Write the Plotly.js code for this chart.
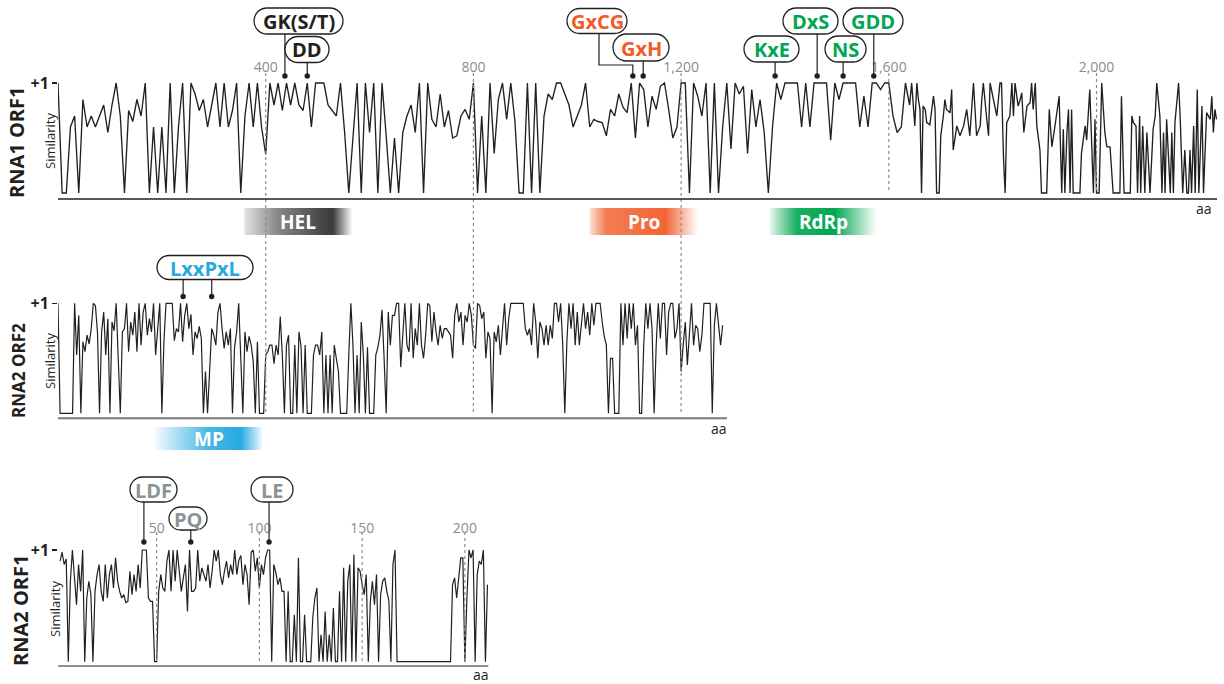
<!DOCTYPE html>
<html><head><meta charset="utf-8">
<script src="https://cdn.plot.ly/plotly-3.0.1.min.js"></script>
<style>html,body{margin:0;padding:0;background:#fff}#chart{width:1224px;height:684px}</style>
</head><body><div id="chart"></div>
<script>
// ================= DATA =================
// RNA1 ORF1 similarity profile, aa 0-1640 (one value every 8 aa)
const rna1Orf1Step = 8;
const rna1Orf1 = [
1.0,0,0,0.6,0.7,0,0.85,0.6,0.7,0.6,
0.7,0.8,0.55,0.8,1.0,0.7,0,0.75,0.65,0.85,
0.7,1.0,0,0.6,0,0.6,0,1.0,0,0.6,
1.0,0,1.0,0.9,0.75,0.85,0.6,0.8,1.0,0.6,
1.0,0.6,0.75,1.0,0,0.7,1.0,0.6,1.0,0.6,
0.35,1.0,0.8,1.0,0.75,1.0,0.8,1.0,0.8,0.75,
1.0,0.6,1.0,1.0,1.0,0.8,
0.75,0.7,1.0,0.55,0,0.5,1.0,0,1.0,0.55,
1.0,0,1.0,0.52,0,0.5,0,0.55,0.7,0.8,
0.55,1.0,0,1.0,0.67,0.6,0.9,0.6,0.75,0.5,
0.52,0.7,0.76,0.67,1.0,0,0.7,0,1.0,0.36,
0.85,1.0,0.67,1.0,0.65,0,0,1.0,0,1.0,
0,0.7,0.9,0.85,1.0,1.0,0.9,0.8,0.6,0.7,
0.8,1.0,0.6,0.67,0.65,0.64,0.52,0.76,0.7,0.9,
0.78,0.73,1.0,0.5,1.0,0.94,0.6,0.88,0.76,0.97,
1.0,0.76,0.5,0.6,1.0,1.0,0,1.0,0.88,0.7,
1.0,0,1.0,0,0.6,1.0,0.4,1.0,0.9,0.97,
0.36,0.94,0.6,0.85,0.55,0,0.6,1.0,0.85,1.0,
1.0,1.0,1.0,0.6,1.0,0.6,1.0,1.0,1.0,1.0,
0.48,1.0,0.85,1.0,1.0,1.0,1.0,0.6,0.88,0.6,
1.0,1.0,0.94,1.0,1.0,0.7,0.55,0.6,1.0,0.8
];
// RNA1 ORF1 similarity profile, aa 1644-2231 (vertices read individually)
const rna1Orf1TailAA = [
1644,1650,1654,1657,1660,1663,1666,1670,1673,1679,
1686,1689,1692,1697,1700,1705,1708,1711,1718,1721,
1724,1731,1737,1744,1750,1756,1760,1763,1769,1776,
1779,1782,1788,1792,1795,1801,1808,1814,1817,1821,
1824,1827,1833,1837,1840,1843,1849,1853,1856,1860,
1866,1872,1875,1878,1882,1885,1891,1894,1904,1909,
1914,1920,1923,1928,1933,1936,1939,1943,1946,1949,
1952,1955,1968,1971,1978,1981,1987,1994,1997,2000,
2005,2010,2016,2020,2026,2032,2045,2048,2053,2065,
2068,2071,2076,2079,2083,2085,2089,2093,2097,2103,
2109,2113,2116,2122,2126,2129,2132,2135,2142,2145,
2148,2151,2158,2161,2166,2170,2174,2177,2180,2183,
2187,2190,2194,2197,2203,2206,2212,2219,2222,2225,
2228,2231
];
const rna1Orf1TailSim = [
1.0,0.61,1.0,0.85,0.76,0,0.79,0.76,0.64,0.62,
0.88,0.76,0,0,0.52,0.7,0.85,0.76,0.73,0.94,
0.39,0.61,0.52,0.61,0.76,0.52,0.85,1.0,0.52,0.61,
0.85,1.0,0.7,0.52,1.0,0.85,0.7,1.0,1.0,0.3,
0,0.64,0.7,1.0,0.7,1.0,0.79,0.85,0.91,0.55,
0.79,0.82,1.0,0.76,1.0,0.61,0.39,0,0,0.76,
0.42,0.61,0.7,0.88,0,0.58,0,0.55,0.76,0,
0.76,0,0,0.36,0.61,0.48,0.94,0,0.67,0,
0,1.0,0.55,0.42,0.42,0,0,0.88,0,0,
0.7,0.64,0.61,0,0.7,0,0.61,0,0.55,0,
0.58,0.7,1.0,0.7,0,0.55,0,0.67,0,0.55,
0,0.64,1.0,0.7,0,0.39,0,0,0.39,0,
0.61,0,0.94,0,0.79,0,0.73,0.67,0.88,0.55,
0.76,0.67
];
// RNA2 ORF2 similarity profile (one value every 4 aa, starting at aa 0)
const rna2Orf2Step = 4;
const rna2Orf2 = [
1.0,0,0,0,0,0,0,0,1.0,0.53,
0.89,0,0.65,0.56,0.71,0.63,0.77,1.0,0.98,0.74,
0,0.74,0.92,0.53,0.86,0,0.83,0.75,1.0,0.53,
0,0.74,0.77,1.0,0.56,0.83,0.71,0.92,0.56,1.0,
0.62,0.92,1.0,0.71,0.86,0.74,1.0,0.53,0.77,1.0,
0,0.65,1.0,1.0,1.0,1.0,0.66,0.77,0.74,1.0,
0.65,0.89,1.0,0.77,0.9,0.53,0.74,0.68,0.79,0.68,
0,0.38,0,0.44,0.77,0.71,0.62,0.92,1.0,0.77,
0.59,0.74,0.62,0.77,0,0.6,0.74,1.0,0.55,0,
0.74,0.56,0.7,0.62,0.47,0,0.65,0,0,0,
0.53,0.56,0.62,0.62,0.45,0.62,0.53,0.88,0.53,0,
0.62,0.71,0,0,0.62,0,0.74,0.61,0,0.62,
0,0,0,0.53,0.62,0.62,0.53,0.74,0,0.53,
0,0.53,0,0.62,0.5,0.38,0,0,0,0,
0.53,1.0,0.62,0,0.53,0,0.83,0.53,0,0.6,
0,0,0,0.53,0.6,
0.71,0.94,0.5,0,0.92,
0.62,0.89,0.89,1.0,1.0,0.42,0.74,1.0,0.62,0.56,
1.0,0.5,0.77,0.62,1.0,0.62,0.5,0.71,1.0,0.98,
0.65,0.92,0.74,0.62,0.8,0.68,0.77,0.77,0.74,0.71,
0.5,0.89,1.0,0.83,0.92,0.62,0.89,0.83,1.0,0.89,
0.62,0.59,1.0,0.98,0.86,0.92,0.5,0.74,0.68,0,
0.74,0.65,0.8,0.53,0.77,1.0,0.62,0.86,1.0,1.0,
1.0,1.0,1.0,1.0,1.0,0.77,0.71,0.77,0.62,1.0,
0.83,0.5,0.83,0.77,0.62,0.8,0.62,0.8,0.68,1.0,
1.0,0.83,1.0,0.62,0,0.65,1.0,0.77,1.0,0.62,
0.92,0.62,0.8,1.0,0.77,0.92,0.71,1.0,0.8,1.0,
1.0,1.0,0.83,0.7,0.62,0,0.5,0.5,0,0,
0,1.0,0.62,1.0,0.68,1.0,0.77,1.0,0.62,0.8,
0,0,0.62,1.0,0.77,1.0,0.77,0,0.62,1.0,
0.68,1.0,1.0,0.53,0.92,1.0,1.0,0.68,0.77,1.0,
0.38,0.62,0.83,0.44,0.77,1.0,0.62,0.8,0.77,0.56,
0.71,1.0,1.0,1.0,1.0,0,0.8,1.0,0.8,0.62,0.8
];
// RNA2 ORF1 similarity profile (one value per aa, starting at aa 3)
const rna2Orf1Start = 3;
const rna2Orf1Step = 1;
const rna2Orf1 = [
0.9,0.98,0.87,0.92,0,0.72,1.0,0.75,0.51,0.87,
0.63,1.0,0,0.57,0.72,0.6,0,0.63,0.78,0.87,
0.63,0.54,0.87,0.57,0.78,0.87,0.66,0.93,0.72,0.63,
0.57,0.6,0.53,0.54,0.81,0.6,0.78,0.63,0.87,0.66,
1.0,1.0,1.0,0.57,0.54,0.54,0,0,0.63,0.78,
0.66,0.63,0.9,1.0,0.63,1.0,0.72,1.0,0.81,0.63,
0.75,0.87,0.45,1.0,0.63,0.63,0.66,1.0,0.72,0.84,
0.78,0.72,0.87,0.66,0.81,1.0,0.9,1.0,0.78,0.69,
0.81,0.9,0.75,0.87,0.78,1.0,0.78,0.91,0.95,0.69,
0.87,0.78,0.51,0.98,1.0,0.81,0.93,0.66,0.87,0.78,
0.93,1.0,1.0,0,0.87,0.8,0.69,0.75,0.63,0.63,
0,0.63,0,0,0.42,0,0.93,0,0,0.42,
0,0,0,0.4,0.57,0.66,0,0.24,0,0.45,
0,0.24,0,0.48,0,0,0.63,0,0.84,0,
0.72,0.87,0,0.96,0,0.84,0.81,0.69,0.6,0.78,
0,0.54,0.72,0.51,0.78,0,0.6,0.72,0.75,0.63,
0.55,0,0.87,1.0,0,0,0,0,0,0,
0,0,0,0,0,0,0,0,0,0,
0,0,0,0,0,0,0,0,0,0,
0,0.69,0.75,0.57,0.78,0.93,0.93,0,0.57,1.0,
0.93,1.0,0,0.78,0.9,0.87,1.0,0,0.69
];
// Tick values
const ticksRna1 = [400, 800, 1200, 1600, 2000];
const ticksRna2Orf1 = [50, 100, 150, 200];
const crossPanelTicks = [400, 800, 1200];
// Protein domains (aa)
const bandNames = ['HEL', 'Pro', 'RdRp', 'MP'];
const bandStart = [359, 1024, 1371, 186];
const bandEnd = [567, 1232, 1577, 394];
const bandPanel = [1, 1, 1, 2];
// Conserved motifs (aa positions of the marked residues)
const motifNames = ['GK(S/T)', 'DD', 'GxCG', 'GxH', 'KxE', 'DxS', 'NS', 'GDD', 'LxxPxL', 'LDF', 'PQ', 'LE'];
const motifSites = [[437], [480], [1107], [1127], [1381], [1462], [1512], [1571], [241, 296], [43.8], [66.6], [104.7]];
const motifPanel = [1, 1, 1, 1, 1, 1, 1, 1, 2, 3, 3, 3];

// ================= STYLE / LAYOUT =================
const W = 1224, H = 684;
const fx = px => px / W;
const fy = py => 1 - py / H;
const INK = '#231F20';
const FONT = 'Open Sans, Noto Sans, sans-serif';

const motifColor = [INK, INK, '#F15A29', '#F15A29', '#00A651', '#00A651', '#00A651', '#00A651', '#27AAE1', '#8A9494', '#8A9494', '#8A9494'];
const motifBoxCx = [298.5, 307, 597, 641, 771.5, 810.5, 845.5, 873, 205, 153.5, 188, 272];
const motifBoxCy = [21, 49.5, 21, 47.5, 49, 21, 49, 21, 267.5, 489.5, 518.5, 489.5];
const motifBoxW = [89, 44, 60, 56, 55, 55, 41, 60, 96, 47, 38, 42];
const motifBoxH = [26, 26, 25, 27, 26, 26, 26, 26, 24, 25, 23, 25];
const dotPy = {1: 76, 2: 296.5, 3: 542};
const stemBend = {2: {px: 599, py: 65}};

const bandRGB = ['60,60,60', '242,101,53', '0,166,81', '39,170,225'];
const bandAlpha = [
  [[0, 0.15], [0.3, 0.6], [0.72, 0.95], [0.82, 1], [1, 0]],
  [[0, 0.2], [0.15, 0.85], [0.7, 1], [1, 0]],
  [[0, 0.1], [0.25, 0.9], [0.6, 1], [1, 0]],
  [[0, 0.05], [0.5, 0.85], [0.8, 1], [1, 0.05]]
];

function yGeom(v1, v0, base) {
  const unit = v0 - v1, pad = 2.75;
  return {range: [-(base - v0) / unit, 1 + pad / unit], domain: [fy(base), fy(v1 - pad)]};
}
const g1 = yGeom(83, 193, 199);
const g2 = yGeom(303.3, 413.3, 418.3);
const g3 = yGeom(550, 661.7, 666);

const x1Range = [0, 2232];
const x1Px = [58, 1217];
const x2Px = [58, 727];
const x2Range = [0, x1Range[1] * (x2Px[1] - x2Px[0]) / (x1Px[1] - x1Px[0])];
const x3Px = [58.3, 488.3];
const x3Range = [2.14, 211.4];

// ================= TRACES =================
const rna1X = rna1Orf1.map((_, i) => i * rna1Orf1Step).concat(rna1Orf1TailAA);
const rna1Y = rna1Orf1.concat(rna1Orf1TailSim);
const traces = [
  {x: rna1X, y: rna1Y, xaxis: 'x', yaxis: 'y', mode: 'lines', line: {color: INK, width: 1.35}, hoverinfo: 'skip'},
  {x: rna2Orf2.map((_, i) => i * rna2Orf2Step), y: rna2Orf2, xaxis: 'x2', yaxis: 'y2', mode: 'lines', line: {color: INK, width: 1.2}, hoverinfo: 'skip'},
  {x: rna2Orf1.map((_, i) => rna2Orf1Start + i * rna2Orf1Step), y: rna2Orf1, xaxis: 'x3', yaxis: 'y3', mode: 'lines', line: {color: INK, width: 1.2}, hoverinfo: 'skip'}
];
const annotations = [];
bandNames.forEach((name, i) => {
  const xa = bandPanel[i] === 1 ? 'x' : 'x2';
  const ya = bandPanel[i] === 1 ? 'y4' : 'y5';
  traces.push({
    x: [bandStart[i], bandEnd[i], bandEnd[i], bandStart[i], bandStart[i]],
    y: [0, 0, 1, 1, 0], xaxis: xa, yaxis: ya, mode: 'lines', fill: 'toself',
    line: {width: 0, color: 'rgba(0,0,0,0)'}, hoverinfo: 'skip',
    fillgradient: {type: 'horizontal', colorscale: bandAlpha[i].map(s => [s[0], 'rgba(' + bandRGB[i] + ',' + s[1] + ')'])}
  });
  annotations.push({x: (bandStart[i] + bandEnd[i]) / 2, xref: xa, y: 0.5, yref: ya, text: '<b>' + name + '</b>',
    showarrow: false, xanchor: 'center', yanchor: 'middle', font: {size: 19, color: '#fff', family: FONT}});
});

// ================= SHAPES =================
const shapes = [];
const dash = {color: '#8C8C8C', width: 1.2, dash: 'dot'};
ticksRna1.forEach(v => {
  const bottom = crossPanelTicks.includes(v) ? 412 : 193;
  shapes.push({type: 'line', xref: 'x', x0: v, x1: v, yref: 'paper', y0: fy(73), y1: fy(bottom), line: dash, layer: 'above'});
});
ticksRna2Orf1.forEach(v => {
  shapes.push({type: 'line', xref: 'x3', x0: v, x1: v, yref: 'paper', y0: fy(532), y1: fy(662), line: dash, layer: 'above'});
});
shapes.push({type: 'line', xref: 'x domain', x0: 0, x1: 1, yref: 'y domain', y0: 0, y1: 0, line: {color: INK, width: 1.4}});
shapes.push({type: 'line', xref: 'x2 domain', x0: 0, x1: 1, yref: 'y2 domain', y0: 0, y1: 0, line: {color: '#7A7A7A', width: 2}});
shapes.push({type: 'line', xref: 'x3 domain', x0: 0, x1: 1, yref: 'y3 domain', y0: 0, y1: 0, line: {color: INK, width: 1.1}});

function pill(w, h) {
  const r = h / 2, k = 0.5523 * r, a = w / 2 - r, hw = w / 2;
  return `M ${-a} ${r} L ${a} ${r} C ${a + k} ${r} ${hw} ${k} ${hw} 0 C ${hw} ${-k} ${a + k} ${-r} ${a} ${-r} ` +
         `L ${-a} ${-r} C ${-a - k} ${-r} ${-hw} ${-k} ${-hw} 0 C ${-hw} ${k} ${-a - k} ${r} ${-a} ${r} Z`;
}
const stemLine = {color: INK, width: 1.2};
const xrefOf = p => (p === 1 ? 'x' : p === 2 ? 'x2' : 'x3');
motifNames.forEach((name, i) => {
  const xr = xrefOf(motifPanel[i]);
  const boxBottom = motifBoxCy[i] + motifBoxH[i] / 2;
  const dp = dotPy[motifPanel[i]];
  motifSites[i].forEach(site => {
    if (stemBend[i]) {
      const b = stemBend[i];
      const dx = b.px - (x1Px[0] + (site - x1Range[0]) * (x1Px[1] - x1Px[0]) / (x1Range[1] - x1Range[0]));
      shapes.push({type: 'path', xref: xr, xsizemode: 'pixel', xanchor: site, yref: 'paper', ysizemode: 'pixel', yanchor: fy(dp),
        path: `M ${dx} ${dp - boxBottom} L ${dx} ${dp - b.py} L 0 ${dp - b.py} L 0 0`, line: stemLine});
    } else {
      shapes.push({type: 'line', xref: xr, x0: site, x1: site, yref: 'paper', y0: fy(boxBottom), y1: fy(dp), line: stemLine});
    }
    shapes.push({type: 'circle', xref: xr, xsizemode: 'pixel', xanchor: site, x0: -2.7, x1: 2.7,
      yref: 'paper', ysizemode: 'pixel', yanchor: fy(dp), y0: -2.7, y1: 2.7, fillcolor: INK, line: {width: 0}});
  });
});
motifNames.forEach((name, i) => {
  shapes.push({type: 'path', xref: 'paper', xsizemode: 'pixel', xanchor: fx(motifBoxCx[i]), yref: 'paper', ysizemode: 'pixel',
    yanchor: fy(motifBoxCy[i]), path: pill(motifBoxW[i], motifBoxH[i]), fillcolor: '#fff', line: {color: INK, width: 1.3}});
  annotations.push({x: fx(motifBoxCx[i]), y: fy(motifBoxCy[i] + 0.5), xref: 'paper', yref: 'paper', text: '<b>' + name + '</b>',
    showarrow: false, xanchor: 'center', yanchor: 'middle', font: {size: 20, color: motifColor[i], family: FONT}});
});

// ================= TEXT LABELS =================
const panelTitles = ['RNA1 ORF1', 'RNA2 ORF2', 'RNA2 ORF1'];
const panelTitleXY = [[17, 143, 20], [18, 371, 17], [20, 611, 20]];
panelTitles.forEach((t, i) => {
  annotations.push({x: fx(panelTitleXY[i][0]), y: fy(panelTitleXY[i][1]), xref: 'paper', yref: 'paper', text: '<b>' + t + '</b>',
    textangle: -90, showarrow: false, xanchor: 'center', yanchor: 'middle', font: {size: panelTitleXY[i][2], color: INK, family: FONT}});
});
const simXY = [[50, 141], [50, 361], [55, 609]];
simXY.forEach(p => {
  annotations.push({x: fx(p[0]), y: fy(p[1]), xref: 'paper', yref: 'paper', text: 'Similarity', textangle: -90,
    showarrow: false, xanchor: 'center', yanchor: 'middle', font: {size: 13, color: INK, family: FONT}});
});
const aaXY = [[1213, 208], [728, 429], [490, 674]];
aaXY.forEach(p => {
  annotations.push({x: fx(p[0]), y: fy(p[1]), xref: 'paper', yref: 'paper', text: 'aa', showarrow: false,
    xanchor: 'right', yanchor: 'middle', borderpad: 0, font: {size: 14, color: INK, family: FONT}});
});

// ================= AXES =================
const yBase = {tickvals: [1], ticktext: ['<b>+1</b>'], ticks: 'outside', ticklen: 5, tickwidth: 1.3, tickcolor: INK,
  tickfont: {size: 16, color: INK, family: FONT}, showgrid: false, zeroline: false, showline: false, fixedrange: true};
const xTop = {side: 'top', ticks: '', showgrid: false, zeroline: false, showline: false, tickformat: ',d',
  tickfont: {size: 14, color: '#8C8C8C', family: FONT}, fixedrange: true};

const layout = {
  width: W, height: H, margin: {l: 0, r: 0, t: 0, b: 0}, showlegend: false,
  paper_bgcolor: '#fff', plot_bgcolor: 'rgba(0,0,0,0)', font: {family: FONT, color: INK},
  xaxis: Object.assign({}, xTop, {domain: [fx(x1Px[0]), fx(x1Px[1])], range: x1Range, anchor: 'y', tickvals: ticksRna1, ticklabelstandoff: 4}),
  yaxis: Object.assign({}, yBase, {domain: g1.domain, range: g1.range, anchor: 'x'}),
  xaxis2: Object.assign({}, xTop, {domain: [fx(x2Px[0]), fx(x2Px[1])], range: x2Range, anchor: 'y2', showticklabels: false}),
  yaxis2: Object.assign({}, yBase, {domain: g2.domain, range: g2.range, anchor: 'x2'}),
  xaxis3: Object.assign({}, xTop, {domain: [fx(x3Px[0]), fx(x3Px[1])], range: x3Range, anchor: 'y3', tickvals: ticksRna2Orf1, ticklabelstandoff: 10}),
  yaxis3: Object.assign({}, yBase, {domain: g3.domain, range: g3.range, anchor: 'x3'}),
  yaxis4: {domain: [fy(235), fy(208)], range: [0, 1], anchor: 'x', visible: false, fixedrange: true},
  yaxis5: {domain: [fy(450), fy(427)], range: [0, 1], anchor: 'x2', visible: false, fixedrange: true},
  shapes: shapes, annotations: annotations
};

Plotly.newPlot('chart', traces, layout, {staticPlot: true, displayModeBar: false});
</script>
</body></html>
